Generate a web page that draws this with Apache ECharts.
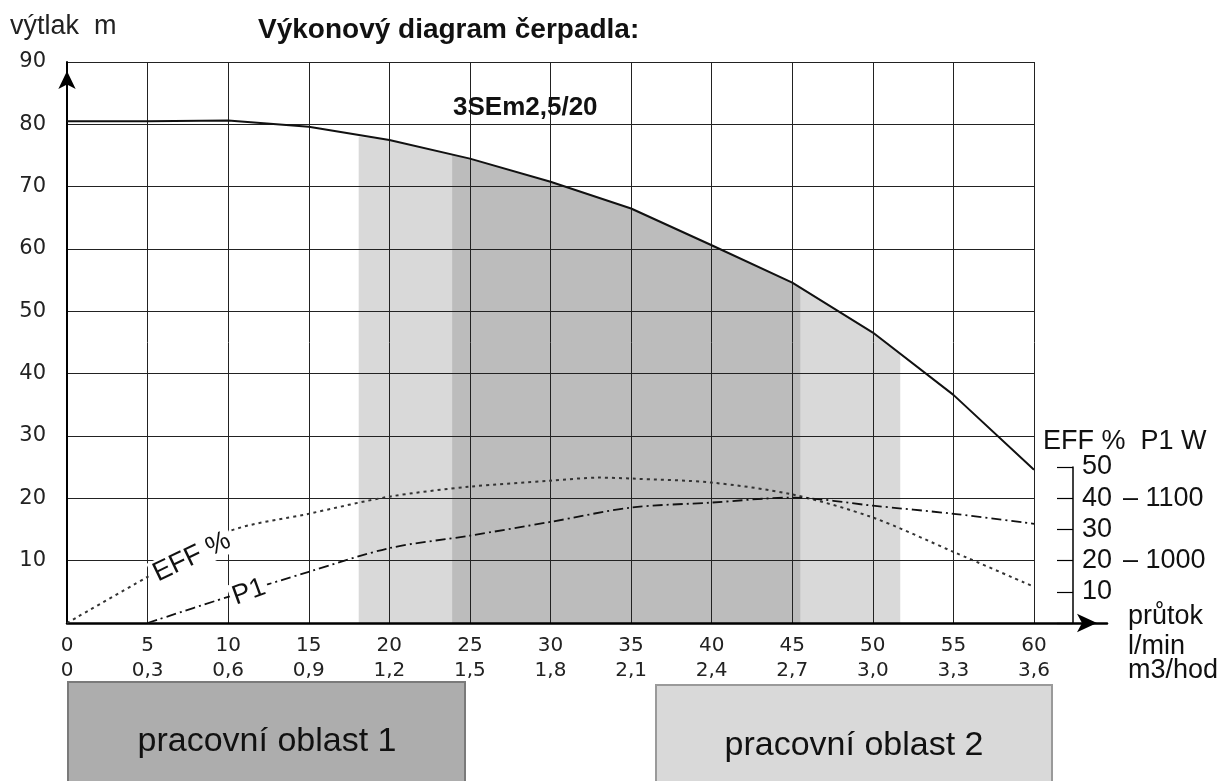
<!DOCTYPE html>
<html>
<head>
<meta charset="utf-8">
<script src="https://cdn.jsdelivr.net/npm/echarts@6/dist/echarts.min.js"></script>
<style>
  html, body { margin: 0; padding: 0; background: #fff; }
  #main { width: 1231px; height: 781px; }
</style>
</head>
<body>
<div id="main"></div>
<script type="text/javascript">
    // osa x - průtok
    var flowLmin = [0, 5, 10, 15, 20, 25, 30, 35, 40, 45, 50, 55, 60];
    var flowM3h = ['0', '0,3', '0,6', '0,9', '1,2', '1,5', '1,8', '2,1', '2,4', '2,7', '3,0', '3,3', '3,6'];

    // výtlak (m)
    var headX = [0, 5, 10, 15, 20, 25, 30, 35, 40, 45, 50, 55, 60];
    var headY = [80.5, 80.5, 80.6, 79.6, 77.5, 74.5, 70.8, 66.5, 60.6, 54.6, 46.6, 36.6, 24.6];

    // pracovní oblasti (pod křivkou)
    var zone2X = [18.1, 20, 25, 30, 35, 40, 45, 50, 51.7];
    var zone2Y = [78.0, 77.5, 74.5, 70.8, 66.5, 60.6, 54.6, 46.6, 43.2];
    var zone1X = [23.9, 25, 30, 35, 40, 45, 45.5];
    var zone1Y = [75.2, 74.5, 70.8, 66.5, 60.6, 54.6, 53.8];

    // účinnost EFF %
    var effX = [0, 5, 10, 15, 20, 25, 30, 33, 35, 40, 45, 50, 55, 60];
    var effY = [0, 14.8, 29.3, 35, 40.5, 43.7, 45.6, 46.6, 46.3, 45, 41.2, 33.8, 22.8, 11.6];

    // příkon P1 W
    var p1X = [5, 10, 15, 20, 25, 30, 35, 40, 45, 50, 55, 60];
    var p1Y = [900, 942, 982, 1020, 1040, 1062, 1085, 1093, 1101, 1088, 1075, 1059];

    function pairs(xs, ys) {
        var out = [];
        for (var i = 0; i < xs.length; i++) out.push([xs[i], ys[i]]);
        return out;
    }

    var myChart = echarts.init(document.getElementById('main'));

    var numFont = 'DejaVu Sans';
    var txtFont = 'Liberation Sans, Arial, sans-serif';

    var option = {
        backgroundColor: '#fff',
        animation: false,
        title: [
            {text: 'výtlak  m', left: 5, top: 8,
             textStyle: {fontFamily: txtFont, fontSize: 27, fontWeight: 'normal', color: '#222'}},
            {text: 'Výkonový diagram čerpadla:', left: 253, top: 11,
             textStyle: {fontFamily: txtFont, fontSize: 28, fontWeight: 'bold', color: '#111'}},
            {text: '3SEm2,5/20', left: 448, top: 90,
             textStyle: {fontFamily: txtFont, fontSize: 26, fontWeight: 'bold', color: '#111'}}
        ],
        grid: [
            {left: 67, right: 197, top: 62, bottom: 158},
            {left: 67, right: 124, top: 62, bottom: 158},
            {left: 67, right: 197, top: 467, bottom: 158}
        ],
        xAxis: [
            {
                gridIndex: 0, type: 'value', min: 0, max: 60, interval: 5,
                axisLine: {show: false},
                axisTick: {show: false},
                splitLine: {show: true, lineStyle: {color: '#222', width: 1}},
                axisLabel: {
                    margin: 10,
                    formatter: function (v) {
                        var i = flowLmin.indexOf(v);
                        if (i < 0) return '';
                        return '{a|' + flowLmin[i] + '}\n{b|' + flowM3h[i] + '}';
                    },
                    rich: {
                        a: {fontFamily: numFont, fontSize: 20, color: '#222', lineHeight: 25},
                        b: {fontFamily: numFont, fontSize: 20, color: '#222', lineHeight: 25}
                    }
                }
            },
            {
                gridIndex: 1, type: 'value', min: 0, max: 1,
                axisLine: {show: true, lineStyle: {color: '#000', width: 2.5},
                           symbol: ['none', 'arrow'], symbolSize: [14, 20], symbolOffset: [0, -10]},
                axisTick: {show: false}, axisLabel: {show: false}, splitLine: {show: false}
            },
            {
                gridIndex: 2, type: 'value', min: 0, max: 60, show: false
            }
        ],
        yAxis: [
            {
                gridIndex: 0, type: 'value', min: 0, max: 90, interval: 10,
                axisLine: {show: true, onZero: false, lineStyle: {color: '#000', width: 2},
                           symbol: ['none', 'arrow'], symbolSize: [13, 18], symbolOffset: [0, -9]},
                axisTick: {show: false},
                splitLine: {show: true, lineStyle: {color: '#222', width: 1}},
                axisLabel: {
                    margin: 21,
                    fontFamily: numFont, fontSize: 21, color: '#222',
                    formatter: function (v) { return v === 0 ? '' : v; }
                }
            },
            {gridIndex: 1, type: 'value', min: 0, max: 1, show: false},
            {
                gridIndex: 2, type: 'value', min: 0, max: 50, interval: 10,
                position: 'right', offset: 39,
                axisLine: {show: true, onZero: false, lineStyle: {color: '#000', width: 1.5}},
                axisTick: {show: true, inside: true, length: 16, lineStyle: {color: '#000', width: 1.2}},
                splitLine: {show: false},
                axisLabel: {
                    margin: 9, fontFamily: txtFont, fontSize: 27, color: '#111',
                    formatter: function (v) { return v === 0 ? '' : v; }
                }
            },
            {
                gridIndex: 2, type: 'value', min: 900, max: 1150, interval: 100,
                position: 'right', offset: 89,
                axisLine: {show: false, onZero: false}, axisTick: {show: false}, splitLine: {show: false},
                axisLabel: {
                    margin: 0, fontFamily: txtFont, fontSize: 27, color: '#111',
                    formatter: function (v) { return (v === 1000 || v === 1100) ? '\u2013 ' + v : ''; }
                }
            }
        ],
        series: [
            {
                name: 'pracovní oblast 2', type: 'line', xAxisIndex: 0, yAxisIndex: 0,
                data: pairs(zone2X, zone2Y), symbol: 'none', z: -2, silent: true,
                lineStyle: {width: 0}, areaStyle: {color: '#d9d9d9', opacity: 1}
            },
            {
                name: 'pracovní oblast 1', type: 'line', xAxisIndex: 0, yAxisIndex: 0,
                data: pairs(zone1X, zone1Y), symbol: 'none', z: -1, silent: true,
                lineStyle: {width: 0}, areaStyle: {color: '#bcbcbc', opacity: 1}
            },
            {
                name: 'výtlak', type: 'line', xAxisIndex: 0, yAxisIndex: 0,
                data: pairs(headX, headY), symbol: 'none',
                lineStyle: {color: '#111', width: 2}
            },
            {
                name: 'EFF %', type: 'line', xAxisIndex: 2, yAxisIndex: 2,
                data: pairs(effX, effY), symbol: 'none', smooth: 0.3,
                lineStyle: {color: '#333', width: 2, type: [3, 4]}
            },
            {
                name: 'P1 W', type: 'line', xAxisIndex: 2, yAxisIndex: 3,
                data: pairs(p1X, p1Y), symbol: 'none', smooth: 0.3,
                lineStyle: {color: '#111', width: 1.8, type: [10, 4, 2, 4]}
            }
        ],
        graphic: [
            {type: 'text', x: 1043, y: 442, z: 10,
             style: {text: 'EFF %  P1 W', font: '27px ' + txtFont, fill: '#111', verticalAlign: 'middle'}},
            {type: 'text', x: 1128, y: 617, z: 10,
             style: {text: 'průtok', font: '27px ' + txtFont, fill: '#111', verticalAlign: 'middle'}},
            {type: 'text', x: 1128, y: 647, z: 10,
             style: {text: 'l/min', font: '27px ' + txtFont, fill: '#111', verticalAlign: 'middle'}},
            {type: 'text', x: 1128, y: 671, z: 10,
             style: {text: 'm3/hod', font: '27px ' + txtFont, fill: '#111', verticalAlign: 'middle'}},
            {type: 'text', x: 192, y: 557, rotation: 0.45, z: 10,
             style: {text: 'EFF %', font: '27px ' + txtFont, fill: '#111', align: 'center',
                     verticalAlign: 'middle', backgroundColor: '#fff', padding: [0, 3]}},
            {type: 'text', x: 249, y: 592, rotation: 0.35, z: 10,
             style: {text: 'P1', font: '27px ' + txtFont, fill: '#111', align: 'center',
                     verticalAlign: 'middle', backgroundColor: '#fff', padding: [0, 3]}},
            {type: 'rect', z: 5, shape: {x: 68, y: 682, width: 397, height: 110},
             style: {fill: '#adadad', stroke: '#7a7a7a', lineWidth: 2}},
            {type: 'text', x: 267, y: 742, z: 6,
             style: {text: 'pracovní oblast 1', font: '34px ' + txtFont, fill: '#111',
                     align: 'center', verticalAlign: 'middle'}},
            {type: 'rect', z: 5, shape: {x: 656, y: 685, width: 396, height: 110},
             style: {fill: '#d9d9d9', stroke: '#9a9a9a', lineWidth: 2}},
            {type: 'text', x: 854, y: 746, z: 6,
             style: {text: 'pracovní oblast 2', font: '34px ' + txtFont, fill: '#111',
                     align: 'center', verticalAlign: 'middle'}}
        ]
    };

    myChart.setOption(option);
</script>
</body>
</html>
